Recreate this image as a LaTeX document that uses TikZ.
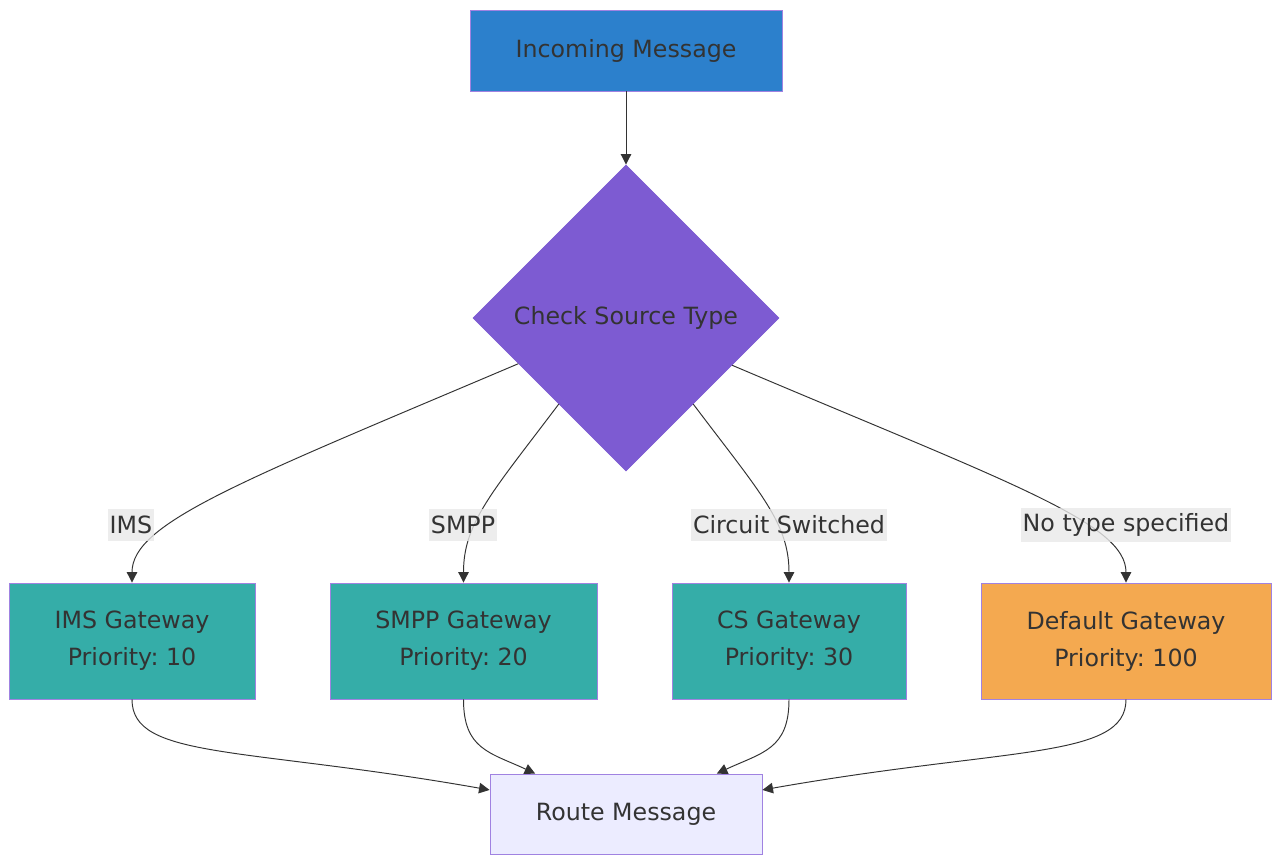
\documentclass[tikz,border=0pt]{standalone}
\usepackage{fontspec}
\setmainfont{DejaVu Sans}
\usepackage{tikz}
\usetikzlibrary{shapes.geometric,arrows.meta}
\frenchspacing

\definecolor{txt}{RGB}{51,51,51}
\definecolor{edge}{RGB}{51,51,51}
\definecolor{bord}{RGB}{160,130,225}
\definecolor{blue}{RGB}{44,128,204}
\definecolor{violet}{RGB}{125,91,210}
\definecolor{teal}{RGB}{53,173,168}
\definecolor{orange}{RGB}{244,169,80}
\definecolor{pale}{RGB}{236,236,255}
\definecolor{lblbg}{RGB}{232,232,232}

\begin{document}
\begin{tikzpicture}[x=1cm,y=1cm]
\tikzstyle{box}=[draw=bord,line width=0.5pt,align=center,inner sep=3pt,text=txt,font=\fontsize{13.5}{21}\selectfont]
\tikzstyle{lbl}=[fill=lblbg,fill opacity=0.8,text opacity=1,text=txt,inner xsep=1pt,minimum height=0.64cm,font=\fontsize{13.5}{16}\selectfont]
\tikzstyle{arr}=[-{Triangle[length=6pt,width=6pt]},draw=edge,line width=0.55pt]
\useasboundingbox (0,0) rectangle (25.46,-17.08);

\node[box,fill=blue,minimum width=6.24cm,minimum height=1.62cm] (msg) at (12.52,-1.01) {Incoming Message};
\node[box,diamond,aspect=1,inner sep=0pt,fill=violet,draw=violet,minimum width=6.12cm,minimum height=6.12cm] (chk) at (12.52,-6.36) {Check Source Type};

\node[box,fill=teal,minimum width=4.92cm,minimum height=2.32cm] (ims) at (2.64,-12.82) {IMS Gateway\\Priority: 10};
\node[box,fill=teal,minimum width=5.34cm,minimum height=2.32cm] (smpp) at (9.27,-12.82) {SMPP Gateway\\Priority: 20};
\node[box,fill=teal,minimum width=4.68cm,minimum height=2.32cm] (cs) at (15.78,-12.82) {CS Gateway\\Priority: 30};
\node[box,fill=orange,minimum width=5.80cm,minimum height=2.32cm] (dflt) at (22.52,-12.82) {Default Gateway\\Priority: 100};

\node[box,fill=pale,minimum width=5.44cm,minimum height=1.60cm] (route) at (12.52,-16.28) {Route Message};

\draw[arr] (msg) -- (chk);

\draw[arr] (chk.203.5) to[out=203,in=90,out distance=6cm,in distance=1.2cm] (ims.north);
\draw[arr] (chk.232) to[out=233,in=90,out distance=2.2cm,in distance=1.2cm] (smpp.north);
\draw[arr] (chk.308) to[out=307,in=90,out distance=2.2cm,in distance=1.2cm] (cs.north);
\draw[arr] (chk.336.5) to[out=337,in=90,out distance=6cm,in distance=1.2cm] (dflt.north);

\node[lbl] (l1) at (2.62,-10.5) {IMS};
\node[lbl] (l2) at (9.26,-10.5) {SMPP};
\node[lbl] (l3) at (15.78,-10.5) {Circuit Switched};
\node[lbl] (l4) at (22.52,-10.5) {No type specified};

\draw[arr] (ims.south) to[out=-90,in=170,out distance=1.2cm,in distance=5cm] (route.170);
\draw[arr] (smpp.south) to[out=-90,in=155,out distance=1cm,in distance=1cm] (route.156);
\draw[arr] (cs.south) to[out=-90,in=25,out distance=1cm,in distance=1cm] (route.24);
\draw[arr] (dflt.south) to[out=-90,in=10,out distance=1.2cm,in distance=5cm] (route.10);
\end{tikzpicture}
\end{document}
